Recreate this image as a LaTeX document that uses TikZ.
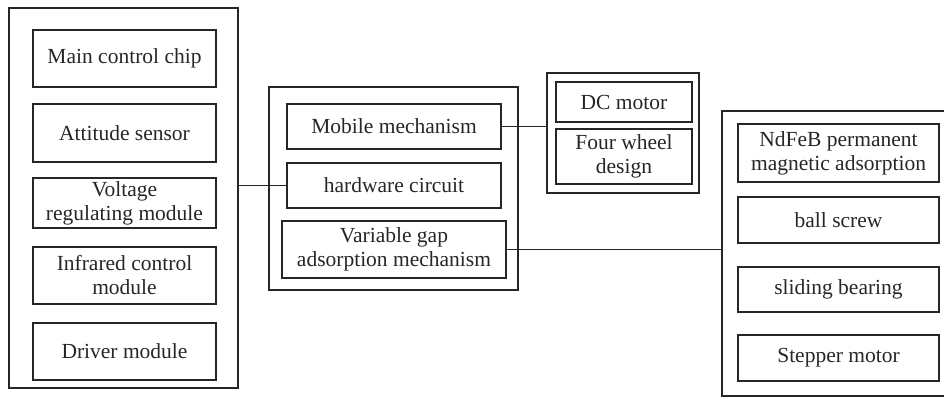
\documentclass[tikz,border=0pt]{standalone}
\usepackage{fontspec}
\setmainfont{Liberation Serif}
\begin{document}
\begin{tikzpicture}[x=1pt,y=-1pt,
  box/.style={draw=black!85,line width=1.6pt,inner sep=0pt,align=center,
    font=\fontsize{21.5}{24}\selectfont,text=black!85},
  wire/.style={draw=black!85,line width=1.8pt}]
\useasboundingbox (0,0) rectangle (944,398);
\clip (0,0) rectangle (944,398);
\newcommand{\bx}[6]{%
  \node[box,minimum width={#3-#2},minimum height={#5-#4}] (#1) at ({(#2+#3)/2},{(#4+#5)/2}) {#6};}
% outer groups
\bx{L}{9}{238}{8}{388}{}
\bx{M}{269}{518}{87}{290}{}
\bx{TR}{547}{699}{73}{193}{}
\bx{R}{722}{970}{111}{396}{}
% left group
\bx{chip}{33}{216}{30}{87}{Main control chip}
\bx{att}{33}{216}{104}{162}{Attitude sensor}
\bx{volt}{33}{216}{178}{228}{Voltage\\regulating module}
\bx{ir}{33}{216}{247}{304}{Infrared control\\module}
\bx{drv}{33}{216}{323}{380}{Driver module}
% middle group
\bx{mob}{287}{501}{104}{149}{Mobile mechanism}
\bx{hw}{287}{501}{163}{208}{hardware circuit}
\bx{var}{282}{506}{221}{278}{Variable gap\\adsorption mechanism}
% top right group
\bx{dc}{556}{692}{82}{122}{DC motor}
\bx{four}{556}{692}{129}{184}{Four wheel\\design}
% right group
\bx{nd}{738}{939}{124}{182}{NdFeB permanent\\magnetic adsorption}
\bx{ball}{738}{939}{197}{243}{ball screw}
\bx{slide}{738}{939}{267}{312}{sliding bearing}
\bx{step}{738}{939}{335}{381}{Stepper motor}
% connectors
\draw[wire] (hw.west) -- (hw.west -| L.east);
\draw[wire] (mob.east) -- (mob.east -| TR.west);
\draw[wire] (var.east) -- (var.east -| R.west);
\end{tikzpicture}
\end{document}
